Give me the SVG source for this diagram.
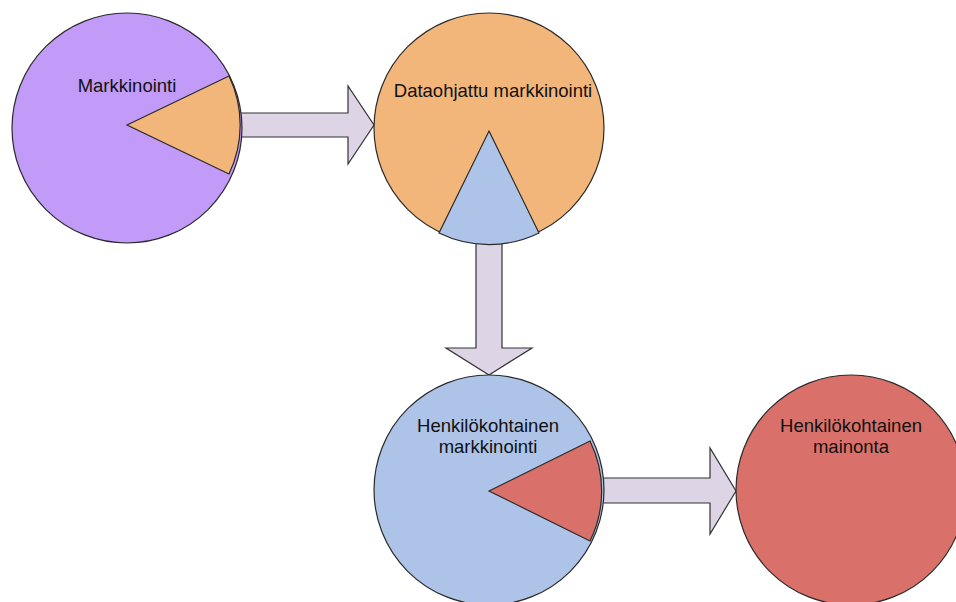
<svg xmlns="http://www.w3.org/2000/svg" width="956" height="602" viewBox="0 0 956 602">
<style>
.arrow{fill:#DDD4E6;stroke:#333;stroke-width:1.2;stroke-linejoin:miter}
.circ,.slice{stroke:#2a2a2a;stroke-width:1.2}
.purple{fill:#C29BF8}
.orange{fill:#F2B67B}
.blue{fill:#ADC3E7}
.red{fill:#D9716A}
text{font-family:"Liberation Sans",Arial,sans-serif;font-size:18.5px;fill:#111;text-anchor:middle}
</style>
<rect width="956" height="602" fill="#fff"/>
<g id="connectors">
<path class="arrow" d="M236,113 L348,113 L348,86 L374,125 L348,164 L348,137 L236,137 Z"/>
<path class="arrow" d="M476,240 L476,348 L446,348 L489,375 L532,348 L502,348 L502,240 Z"/>
<path class="arrow" d="M598,478 L710,478 L710,448 L736,491 L710,534 L710,503 L598,503 Z"/>
</g>
<g id="markkinointi">
<circle class="circ purple" cx="127" cy="128" r="115"/>
<path class="slice orange" d="M127,125 L229,76 A113 113 0 0 1 229,174 Z"/>
<text x="127" y="92">Markkinointi</text>
</g>
<g id="dataohjattu">
<circle class="circ orange" cx="489" cy="128" r="115"/>
<path class="slice blue" d="M489,131 L539,233 A114 114 0 0 1 439,233 Z"/>
<text x="493" y="97">Dataohjattu markkinointi</text>
</g>
<g id="henkilokohtainen-markkinointi">
<circle class="circ blue" cx="489" cy="490" r="115"/>
<path class="slice red" d="M489,491 L590,441 A113 113 0 0 1 590,541 Z"/>
<text x="488" y="432">Henkilökohtainen</text>
<text x="488" y="453">markkinointi</text>
</g>
<g id="henkilokohtainen-mainonta">
<circle class="circ red" cx="851" cy="490" r="115"/>
<text x="851" y="432">Henkilökohtainen</text>
<text x="851" y="453">mainonta</text>
</g>
</svg>
